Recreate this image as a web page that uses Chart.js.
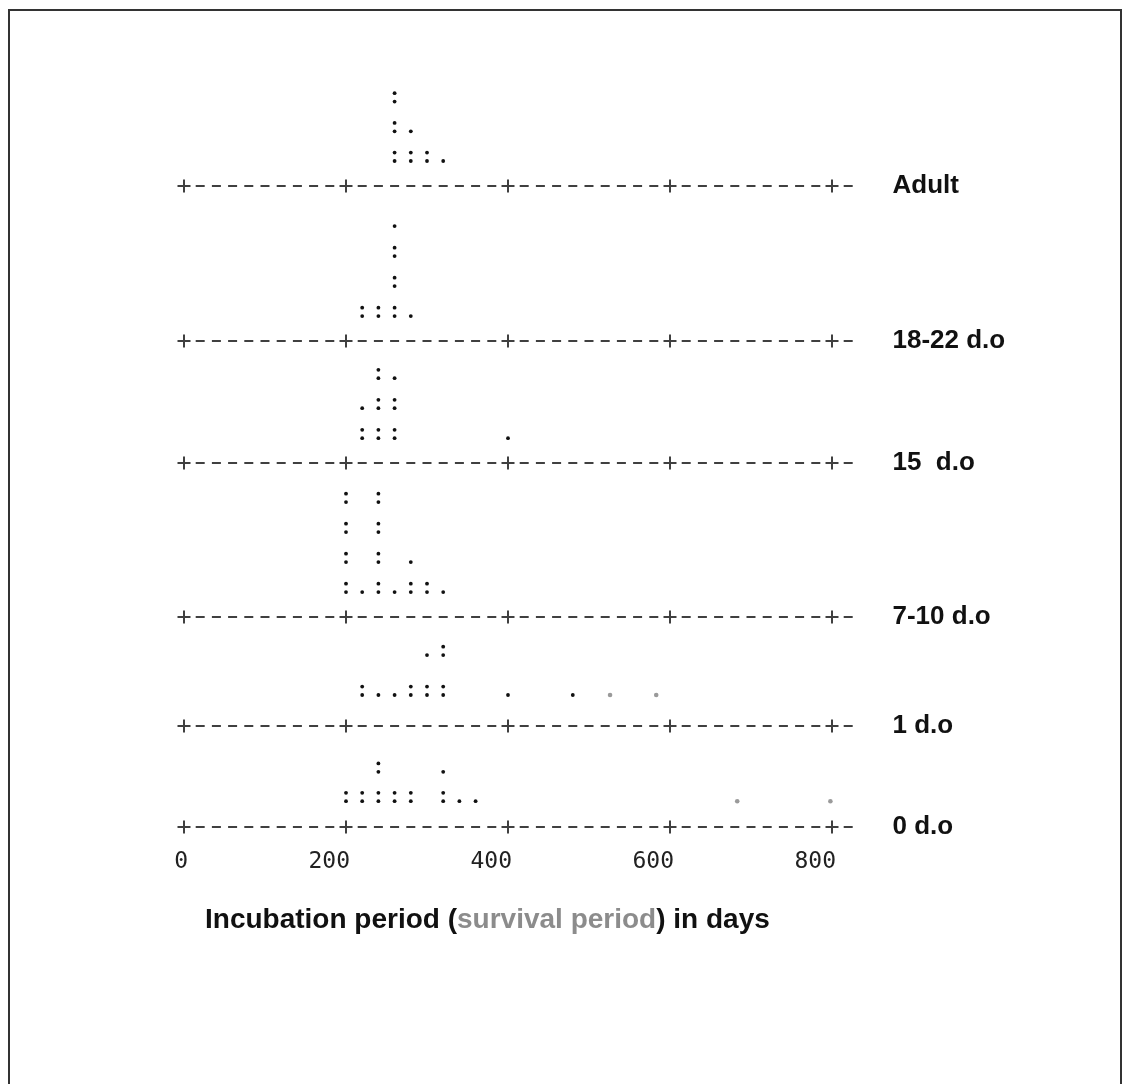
<!DOCTYPE html>
<html><head><meta charset="utf-8">
<script src="https://cdn.jsdelivr.net/npm/chart.js@4.4.1/dist/chart.umd.min.js"></script>
<style>
html,body{margin:0;padding:0;background:#fff;}
#wrap{position:relative;width:1123px;height:1084px;overflow:hidden;background:#fff;}
#frame{position:absolute;left:8px;top:9px;width:1114px;height:1100px;border-left:2px solid #333;border-top:2px solid #333;border-right:2px solid #333;box-sizing:border-box;}
canvas{position:absolute;left:0;top:0;}
#xtitle{position:absolute;left:205px;top:903px;font:bold 28px "Liberation Sans",Arial,sans-serif;color:#111;white-space:pre;line-height:32px;}
#xtitle .sv{color:#8c8c8c;}
</style></head><body>
<div id="wrap"><div id="frame"></div><canvas id="c" width="1123" height="1084"></canvas>
<div id="xtitle">Incubation period (<span class="sv">survival period</span>) in days</div></div>
<script>
// ---- data (days per 20-day bin, number of animals) ----
const groupNames = ["Adult", "18-22 d.o", "15  d.o", "7-10 d.o", "1 d.o", "0 d.o"];
const adultDays = [260, 280, 300, 320];
const adultCounts = [6, 3, 2, 1];
const d18Days = [220, 240, 260, 280];
const d18Counts = [2, 2, 7, 1];
const d15Days = [220, 240, 260, 400];
const d15Counts = [3, 6, 5, 1];
const d7Days = [200, 220, 240, 260, 280, 300, 320];
const d7Counts = [8, 1, 8, 1, 3, 2, 1];
const d1Days = [220, 240, 260, 280, 300, 320, 400, 480];
const d1Counts = [2, 1, 1, 2, 3, 4, 1, 1];
const d1Survival = [526, 583];
const d0Days = [200, 220, 240, 260, 280, 320, 340, 360];
const d0Counts = [2, 2, 4, 2, 2, 3, 1, 1];
const d0Survival = [683, 798];
const xTicks = [0, 200, 400, 600, 800];

// ---- layout (row units) ----
const groupBase = [21.37, 16.2, 12.13, 7.0, 3.37, 0];
const firstRow = [0.97, 0.97, 0.97, 0.97, 1.17, 1.0];
const rowStep  = [0.99, 1.0, 1.0, 1.0, 1.33, 0.98];
const subLow = -0.14, subUp = 0.14;

const groups = [
  [adultDays, adultCounts, []],
  [d18Days, d18Counts, []],
  [d15Days, d15Counts, []],
  [d7Days, d7Counts, []],
  [d1Days, d1Counts, d1Survival],
  [d0Days, d0Counts, d0Survival]
];

const dots = [], grey = [], crosses = [];
groups.forEach((g, gi) => {
  const [days, counts, surv] = g;
  const b = groupBase[gi];
  days.forEach((d, i) => {
    for (let k = 0; k < counts[i]; k++) {
      const row = Math.floor(k / 2), sub = k % 2;
      dots.push({x: d, y: b + firstRow[gi] + row * rowStep[gi] + (sub ? subUp : subLow)});
    }
  });
  surv.forEach(d => grey.push({x: d, y: b + firstRow[gi] + subLow}));
  xTicks.forEach(t => crosses.push({x: t, y: b}));
});

const axisColor = '#404040';
const datasets = [
  {data: dots, pointRadius: 1.9, pointBackgroundColor: '#111', pointBorderWidth: 0, clip: false},
  {data: grey, pointRadius: 2.3, pointBackgroundColor: '#9a9a9a', pointBorderWidth: 0, clip: false},
  {data: crosses, pointStyle: 'cross', pointRadius: 6.5, pointBorderColor: axisColor, pointBorderWidth: 2, clip: false}
];
groupBase.forEach(b => {
  datasets.push({data: [{x: -5.56, y: b}, {x: 825.6, y: b}], showLine: true, pointRadius: 0,
    borderColor: axisColor, borderWidth: 2, borderDash: [9, 7.2], clip: false});
});

new Chart(document.getElementById('c'), {
  type: 'scatter',
  data: {datasets},
  options: {
    responsive: false, animation: false, devicePixelRatio: 1,
    layout: {padding: {left: 175.9, right: 10.5, top: 77, bottom: 202}},
    plugins: {legend: {display: false}, tooltip: {enabled: false}},
    scales: {
      x: {
        type: 'linear', min: -10, max: 850,
        grid: {display: false, drawTicks: false}, border: {display: false},
        afterBuildTicks: s => { s.ticks = xTicks.map(v => ({value: v})); },
        afterFit: s => { s.height = 40; },
        ticks: {align: 'end', labelOffset: 4, padding: 6, color: '#222',
          font: {family: '"DejaVu Sans Mono", monospace', size: 23},
          callback: v => String(v)}
      },
      y: {
        type: 'linear', position: 'right', min: -0.5, max: 25,
        grid: {display: false, drawTicks: false}, border: {display: false},
        afterBuildTicks: s => { s.ticks = groupBase.slice().reverse().map(v => ({value: v})); },
        afterFit: s => { s.width = 240; },
        ticks: {padding: 20, color: '#111',
          font: {family: '"Liberation Sans", Arial, sans-serif', size: 26, weight: 'bold'},
          callback: (v, i) => groupNames.slice().reverse()[i]}
      }
    }
  }
});
</script>
</body></html>
